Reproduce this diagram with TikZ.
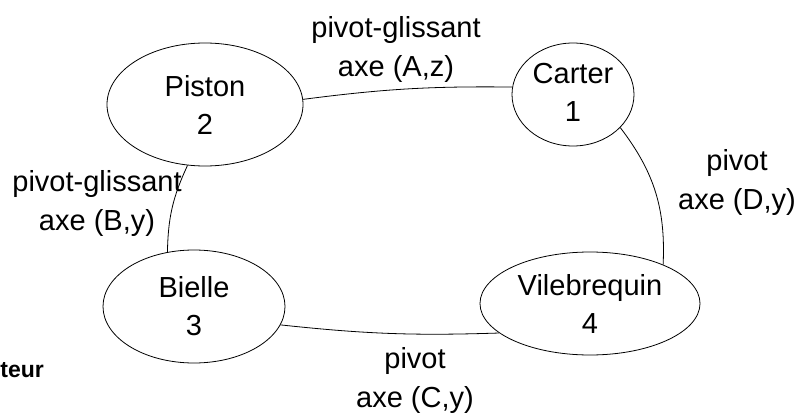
\documentclass[tikz,border=0pt]{standalone}
\usepackage{fontspec}
\setmainfont{Liberation Sans}
\usetikzlibrary{shapes.geometric}
\begin{document}
\begin{tikzpicture}[x=1pt,y=-1pt,
  part/.style={draw,thick,ellipse,inner sep=0pt,align=center,font=\fontsize{29}{38}\selectfont},
  lbl/.style={align=center,inner sep=0pt,font=\fontsize{29}{39}\selectfont},
  link/.style={thick}]
\useasboundingbox (0,0) rectangle (800,417);
\node[part,minimum width=196pt,minimum height=123pt] (piston) at (205,104.5) {Piston\\2};
\node[part,minimum width=122pt,minimum height=103pt] (carter) at (573,94.5) {\raisebox{4pt}{Carter}\\\raisebox{4pt}{1}};
\node[part,minimum width=182pt,minimum height=113pt] (bielle) at (194,306.5) {Bielle\\3};
\node[part,minimum width=220pt,minimum height=103pt] (vile) at (590,303.5) {Vilebrequin\\4};
\draw[link] (piston.3) to[bend left=4] (carter.173);
\draw[link] (carter.-35) to[bend left=20] (vile.28.5);
\draw[link] (vile.198.5) to[bend left=4] (bielle.-12.4);
\draw[link] (bielle.116) to[bend left=12] (piston.254);
\node[lbl] (lA) at (396,49) {pivot-glissant\\axe (A,z)};
\node[lbl] (lB) at (97,204) {pivot-glissant\\axe (B,y)};
\node[lbl] (lD) at (737,182.5) {pivot\\axe (D,y)};
\node[lbl] (lC) at (415,380) {pivot\\axe (C,y)};
\node[anchor=base east,inner sep=0pt,font=\fontsize{23}{26}\selectfont\bfseries] (mot) at (44,377) {teur};
\end{tikzpicture}
\end{document}
